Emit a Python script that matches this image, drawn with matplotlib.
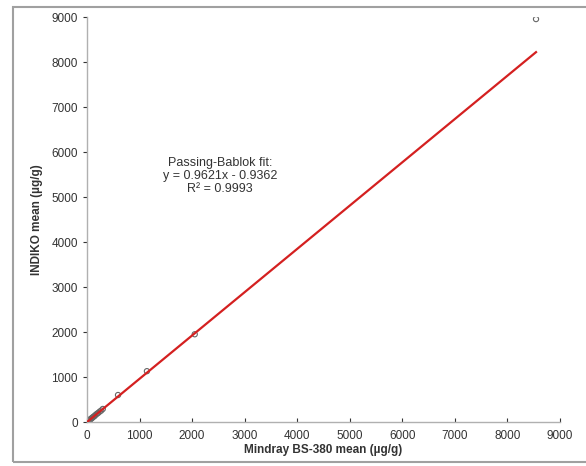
import numpy as np
import matplotlib
import matplotlib.pyplot as plt
from matplotlib.patches import Rectangle

matplotlib.use('Agg')
plt.rcParams['font.family'] = ['Liberation Sans', 'DejaVu Sans']

# Mindray BS-380 vs INDIKO means (ug/g)
mindray = [15, 25, 35, 45, 55, 70, 85, 100, 120, 140, 160, 185, 210, 240, 270, 300, 590, 1140, 2050, 8545]
indiko = [12, 22, 35, 40, 55, 65, 80, 95, 115, 130, 155, 180, 200, 230, 255, 290, 600, 1130, 1950, 8955]

# Passing-Bablok fit
slope = 0.9621
intercept = -0.9362
r2 = 0.9993

fig = plt.figure(figsize=(5.86, 4.66), dpi=100)
ax = fig.add_axes([0.1485, 0.0944, 0.807, 0.869])

# outer frame around the figure
fig.patches.append(Rectangle((0.022, 0.009), 1.2, 0.976, transform=fig.transFigure,
                             fill=False, edgecolor='#a0a0a0', linewidth=1.5))

ax.scatter(mindray, indiko, s=14, facecolors='none', edgecolors='#666666', linewidths=0.8, zorder=2)

xfit = np.array([0, max(mindray)])
ax.plot(xfit, slope * xfit + intercept, color='#d42020', linewidth=1.6, zorder=3)

ax.text(2530, 5467, 'Passing-Bablok fit:\ny = %.4fx - %.4f\nR² = %.4f' % (slope, -intercept, r2),
        ha='center', va='center', fontsize=9, color='#333333', linespacing=1.1)

ax.set_xlim(0, 9000)
ax.set_ylim(0, 9000)
ax.set_xticks(range(0, 9001, 1000))
ax.set_yticks(range(0, 9001, 1000))
ax.tick_params(axis='both', labelsize=8.5, colors='#333333', length=3, width=0.8)
ax.tick_params(axis='x', direction='in', pad=6)
for lab in ax.get_xticklabels() + ax.get_yticklabels():
    lab.set_color('#333333')

for side in ['top', 'right']:
    ax.spines[side].set_visible(False)
for side in ['left', 'bottom']:
    ax.spines[side].set_color('#b0b0b0')
    ax.spines[side].set_linewidth(1.0)

ax.set_xlabel('Mindray BS-380 mean (µg/g)', fontsize=8.5, fontweight='bold', color='#333333', labelpad=1)
ax.set_ylabel('INDIKO mean (µg/g)', fontsize=8.5, fontweight='bold', color='#333333', labelpad=6)

plt.savefig('out.png', dpi=100)
plt.close()
